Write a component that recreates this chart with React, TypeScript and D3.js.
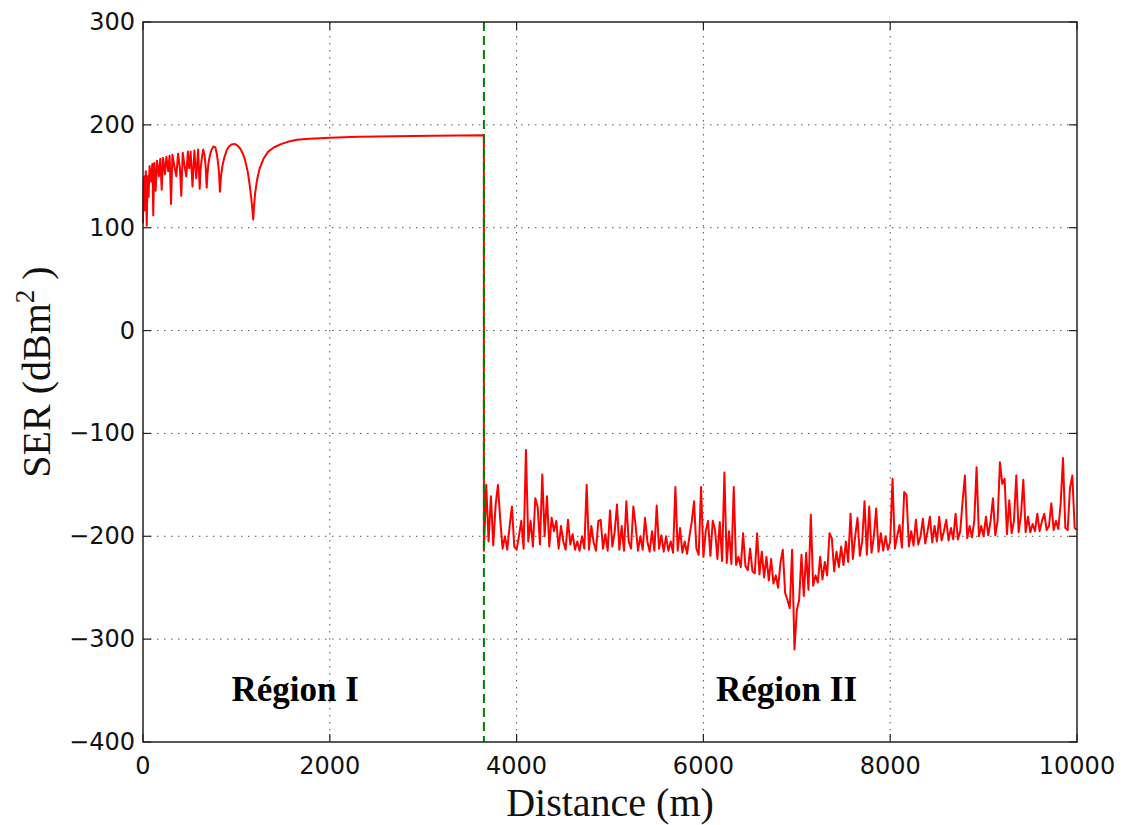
import React from "react";
import * as d3 from "d3";

// ---- Data ----
const xTicks = [0, 2000, 4000, 6000, 8000, 10000];
const yTicks = [-400, -300, -200, -100, 0, 100, 200, 300];
const boundaryDistance = 3650;

// Region I: distance (m)
const region1Dist = [
  0, 5, 12, 20, 30, 40, 50, 60, 70, 85, 100, 110, 120, 135, 150, 170, 185, 200, 215, 235,
  250, 270, 285, 300, 315, 335, 357, 375, 395, 410, 425, 445, 464, 480, 495, 510, 530, 550,
  570, 590, 607, 615, 630, 645, 660, 672, 682, 690, 700, 715, 735, 755, 775, 790, 805, 815,
  824, 835, 850, 870, 895, 920, 950, 980, 1010, 1040, 1070, 1095, 1120, 1140, 1160, 1172,
  1180, 1188, 1200, 1220, 1250, 1290, 1340, 1400, 1470, 1550, 1650, 1780, 1900, 2000, 2300,
  2700, 3100, 3650,
];
// Region I: SER (dBm²)
const region1Ser = [
  104, 143, 150, 117, 155, 102, 150, 130, 160, 145, 162, 112, 163, 136, 165, 150, 167, 137, 168, 152,
  169, 155, 170, 123, 171, 160, 150, 172, 158, 131, 173, 160, 150, 174, 158, 174, 140, 175,
  148, 176, 138, 155, 168, 176, 170, 158, 139, 152, 162, 170, 176, 179, 178, 172, 162, 151,
  135, 150, 160, 168, 175, 179, 181, 181.5, 180, 177, 172, 165, 155, 143, 128, 117,
  108, 120, 133, 146, 158, 167, 174, 178, 181, 183.5, 185.5, 186.5, 187, 187.5, 188.5,
  189, 189.5, 190,
];

// Region II: SER (dBm²) sampled every 25 m from 3650 m to 10000 m
const region2Start = 3650;
const region2Step = 25;
const region2Ser = [
  -214, -150, -205, -161, -209, -170, -150, -184, -212, -200,
  -213, -190, -171, -210, -213, -200, -185, -212, -116, -205,
  -185, -210, -163, -171, -208, -140, -200, -161, -210, -182,
  -195, -185, -212, -190, -205, -213, -184, -208, -198, -213,
  -205, -214, -200, -212, -150, -213, -190, -206, -214, -185,
  -184, -212, -198, -214, -175, -210, -196, -169, -213, -190,
  -214, -166, -205, -212, -171, -190, -214, -200, -213, -182,
  -205, -215, -195, -214, -170, -212, -199, -215, -200, -214,
  -205, -216, -152, -214, -192, -216, -205, -217, -200, -186,
  -166, -212, -218, -152, -220, -195, -185, -219, -185, -194,
  -222, -186, -224, -138, -226, -195, -227, -152, -228, -220,
  -230, -197, -229, -233, -212, -234, -236, -197, -237, -215,
  -240, -220, -243, -222, -246, -238, -250, -226, -213, -255,
  -262, -270, -213, -310, -272, -262, -218, -258, -216, -252,
  -179, -248, -238, -245, -220, -242, -225, -238, -197, -202,
  -234, -215, -230, -210, -228, -205, -225, -178, -222, -200,
  -182, -219, -205, -166, -218, -171, -216, -200, -173, -215,
  -197, -214, -200, -213, -205, -144, -212, -200, -189, -211,
  -157, -160, -210, -195, -209, -184, -208, -200, -183, -207,
  -195, -181, -206, -190, -205, -181, -204, -195, -184, -204,
  -192, -203, -178, -203, -195, -166, -141, -202, -190, -201,
  -185, -133, -200, -190, -200, -181, -199, -185, -163, -199,
  -185, -128, -149, -144, -198, -165, -197, -185, -141, -196,
  -180, -145, -196, -181, -196, -188, -195, -178, -195, -185,
  -178, -194, -190, -168, -194, -185, -193, -168, -124, -192,
  -194, -153, -141, -192, -194,
];

const W = 1122;
const H = 825;
const M = { left: 143, right: 1077, top: 22, bottom: 742 };

export default function App() {
  const x = d3.scaleLinear().domain([0, 10000]).range([M.left, M.right]);
  const y = d3.scaleLinear().domain([-400, 300]).range([M.bottom, M.top]);

  const pts: [number, number][] = [];
  region1Dist.forEach((d, i) => pts.push([d, region1Ser[i]]));
  region2Ser.forEach((v, i) => pts.push([region2Start + i * region2Step, v]));

  const line = d3
    .line<[number, number]>()
    .x((p) => x(p[0]))
    .y((p) => y(p[1]));

  const tickLen = 8;
  const axisColor = "#222";
  const gridProps = { stroke: "#555", strokeWidth: 1, strokeDasharray: "1.5,5.5" };

  return (
    <svg
      width={W}
      height={H}
      style={{ position: "absolute", left: 0, top: 0, background: "#fff" }}
    >
      <rect x={0} y={0} width={W} height={H} fill="#fff" />
      {/* grid */}
      {xTicks
        .filter((t) => t !== 0 && t !== 10000)
        .map((t) => (
          <line key={"gx" + t} x1={x(t)} x2={x(t)} y1={M.top} y2={M.bottom} {...gridProps} />
        ))}
      {yTicks
        .filter((t) => t !== -400 && t !== 300)
        .map((t) => (
          <line key={"gy" + t} x1={M.left} x2={M.right} y1={y(t)} y2={y(t)} {...gridProps} />
        ))}

      {/* SER curve */}
      <path d={line(pts) || ""} fill="none" stroke="#ff0000" strokeWidth={2} strokeLinejoin="round" />

      {/* region boundary */}
      <line
        x1={x(boundaryDistance)}
        x2={x(boundaryDistance)}
        y1={M.top}
        y2={M.bottom}
        stroke="#008000"
        strokeWidth={2}
        strokeDasharray="9,5"
      />

      {/* frame */}
      <rect
        x={M.left}
        y={M.top}
        width={M.right - M.left}
        height={M.bottom - M.top}
        fill="none"
        stroke={axisColor}
        strokeWidth={1.5}
      />

      {/* ticks */}
      {xTicks.map((t) => (
        <g key={"xt" + t}>
          <line x1={x(t)} x2={x(t)} y1={M.bottom} y2={M.bottom - tickLen} stroke={axisColor} strokeWidth={1.2} />
          <line x1={x(t)} x2={x(t)} y1={M.top} y2={M.top + tickLen} stroke={axisColor} strokeWidth={1.2} />
          <text
            x={x(t)}
            y={M.bottom + 32}
            textAnchor="middle"
            fontFamily="DejaVu Sans, sans-serif"
            fontSize={24}
            fill="#111"
          >
            {t}
          </text>
        </g>
      ))}
      {yTicks.map((t) => (
        <g key={"yt" + t}>
          <line x1={M.left} x2={M.left + tickLen} y1={y(t)} y2={y(t)} stroke={axisColor} strokeWidth={1.2} />
          <line x1={M.right} x2={M.right - tickLen} y1={y(t)} y2={y(t)} stroke={axisColor} strokeWidth={1.2} />
          <text
            x={M.left - 8}
            y={y(t) + 8}
            textAnchor="end"
            fontFamily="DejaVu Sans, sans-serif"
            fontSize={24}
            fill="#111"
          >
            {t < 0 ? "\u2212" + Math.abs(t) : String(t)}
          </text>
        </g>
      ))}

      {/* region labels */}
      <text
        x={x(1630)}
        y={701}
        textAnchor="middle"
        fontFamily="Liberation Serif, serif"
        fontWeight="bold"
        fontSize={35}
        fill="#000"
      >
        Région I
      </text>
      <text
        x={x(6890)}
        y={701}
        textAnchor="middle"
        fontFamily="Liberation Serif, serif"
        fontWeight="bold"
        fontSize={35}
        fill="#000"
      >
        Région II
      </text>

      {/* axis titles */}
      <text
        x={610}
        y={816}
        textAnchor="middle"
        fontFamily="Liberation Serif, serif"
        fontSize={40}
        fill="#111"
      >
        Distance (m)
      </text>
      <text
        transform={`translate(50, ${372}) rotate(-90)`}
        textAnchor="middle"
        fontFamily="Liberation Serif, serif"
        fontSize={40}
        fill="#111"
      >
        SER (dBm
        <tspan dy={-16} fontSize={27}>2</tspan>
        <tspan dy={16}> )</tspan>
      </text>
    </svg>
  );
}
